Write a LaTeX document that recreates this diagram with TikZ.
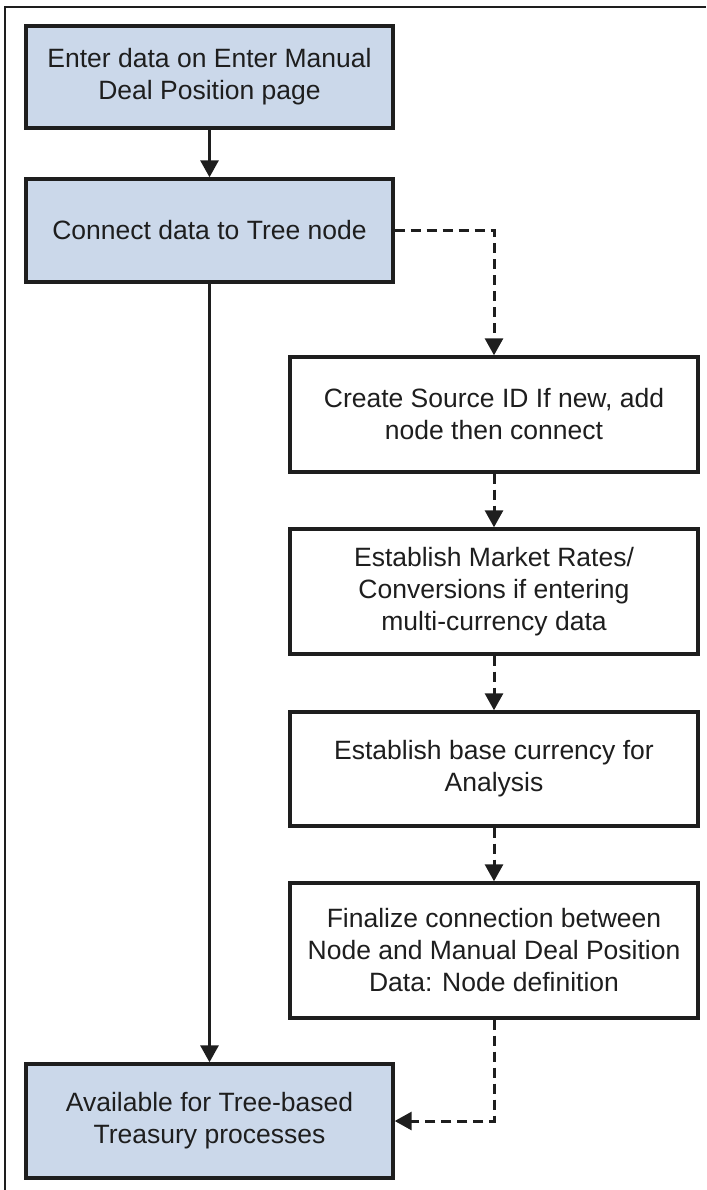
\documentclass[tikz,border=0pt]{standalone}
\usepackage{fontspec}
\setmainfont{Liberation Sans}
\usetikzlibrary{arrows.meta}
\definecolor{boxblue}{RGB}{203,216,234}
\definecolor{ink}{RGB}{30,30,30}
\tikzset{
  stepbox/.style={draw=ink, line width=3.4pt, inner sep=0pt, align=center,
    text=ink, font=\fontsize{26.5}{32}\selectfont},
  bluebox/.style={stepbox, fill=boxblue},
  whitebox/.style={stepbox, fill=white},
  flow/.style={draw=ink, line width=3pt, -{Triangle[length=17pt,width=18pt]}},
  dflow/.style={flow, dash pattern=on 10pt off 6pt},
}
\begin{document}
\begin{tikzpicture}[x=1pt,y=-1pt]
\useasboundingbox (0,0) rectangle (706,1190);
\draw[ink, line width=2pt] (5,1190) -- (5,7) -- (706,7);

\node[bluebox, minimum width=367pt, minimum height=102pt] (b1) at (209.5,77)
  {Enter data on Enter Manual\\Deal Position page};
\node[bluebox, minimum width=367pt, minimum height=103pt] (b2) at (209.5,230.5)
  {Connect data to Tree node};
\node[whitebox, minimum width=408pt, minimum height=115pt] (b3) at (494,414.5)
  {Create Source ID If new, add\\node then connect};
\node[whitebox, minimum width=408pt, minimum height=125pt] (b4) at (494,591.5)
  {Establish Market Rates/\\Conversions if entering\\multi-currency data};
\node[whitebox, minimum width=408pt, minimum height=114pt] (b5) at (494,769)
  {Establish base currency for\\Analysis};
\node[whitebox, minimum width=408pt, minimum height=135pt] (b6) at (494,950.5)
  {Finalize connection between\\Node and Manual Deal Position\\Data: Node definition};
\node[bluebox, minimum width=367pt, minimum height=114pt] (b7) at (209.5,1121)
  {Available for Tree-based\\Treasury processes};

\draw[flow] (b1.south) -- (b2.north);
\draw[flow] (b2.south) -- (b7.north);
\draw[dflow] (b2.east) -| (b3.north);
\draw[dflow] (b3.south) -- (b4.north);
\draw[dflow] (b4.south) -- (b5.north);
\draw[dflow] (b5.south) -- (b6.north);
\draw[dflow] (b6.south) |- (b7.east);
\end{tikzpicture}
\end{document}
